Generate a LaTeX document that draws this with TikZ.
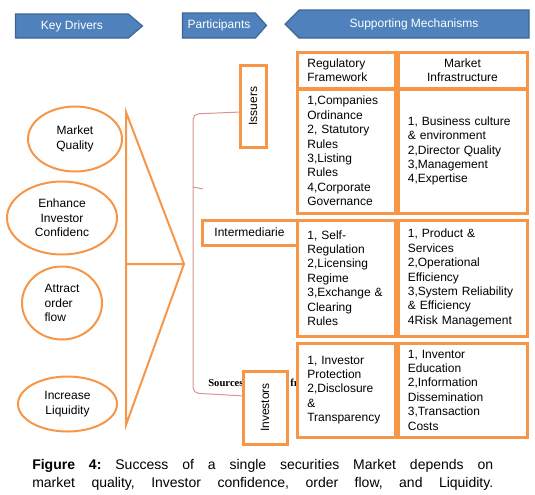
\documentclass[tikz,border=0pt]{standalone}
\usepackage{fontspec}
\setmainfont{Liberation Sans}
\newfontfamily\srcfont{Liberation Serif}
\usepackage{tikz}
\usetikzlibrary{shapes.geometric,shapes.symbols}
\definecolor{orng}{HTML}{F79646}
\definecolor{steel}{HTML}{4F81BD}
\definecolor{steeldark}{HTML}{3C6496}
\definecolor{brick}{HTML}{D99594}

\begin{document}
\begin{tikzpicture}[x=0.75pt,y=-0.75pt,every node/.style={font=\fontsize{9}{10.8}\selectfont},
  banner/.style={signal,draw=steeldark,fill=steel,text=white,line width=0.8pt,inner sep=0pt},
  driver/.style={ellipse,draw=orng,line width=1.5pt,inner sep=0pt,align=center},
  mechbox/.style={draw=orng,line width=2.25pt,fill=white,inner sep=0pt,align=left},
  partbox/.style={draw=orng,line width=2.25pt,fill=white,inner sep=0pt}]
\useasboundingbox (0,0) rectangle (535,494);
% header banners
\node[banner,signal to=east,signal pointer angle=81,minimum width=95.25pt,minimum height=18pt] (kd) at (72,26) {Key Drivers};
\node[banner,signal to=east,signal pointer angle=97,minimum width=63pt,minimum height=18.75pt] (part) at (219,25.5) {Participants};
\node[banner,signal to=west,signal pointer angle=90,minimum width=183pt,minimum height=21pt] (supp) at (414,24) {Supporting Mechanisms};
% key drivers
\node[driver,minimum width=70.5pt,minimum height=48.75pt] (mq) at (75,139) {Market\\Quality};
\node[driver,minimum width=82.5pt,minimum height=54.75pt] (conf) at (62,218) {Enhance\\Investor\\Confidenc};
\node[driver,align=left,minimum width=60pt,minimum height=54.75pt] (flow) at (62,303) {Attract\\order\\flow};
\node[driver,minimum width=74.25pt,minimum height=41.25pt] (liq) at (67.5,404) {Increase\\Liquidity};
\draw[orng,line width=1.5pt] (126,112) -- (184,264) -- (126,425) -- cycle (126,264) -- (184,264);
% bracket over the participants
\coordinate (brtop) at (0,112);
\coordinate (brbot) at (0,396);
\draw[brick,line width=0.75pt,rounded corners=4pt] (brtop -| 241,0) -- (193,114) -- (193,393) -- (brbot -| 244,0);
\draw[brick,line width=0.75pt] (193,187) -- (203,189);
\node[anchor=west,inner sep=0pt,font=\srcfont\bfseries\fontsize{8}{9.6}\selectfont] (src) at (208,383) {Sources};
\node[anchor=west,inner sep=0pt,font=\srcfont\bfseries\fontsize{8}{9.6}\selectfont] (fr) at (290,383) {fr};
% participants
\node[partbox,rotate=90,minimum width=61.5pt,minimum height=19.5pt] (iss) at (253,106) {Issuers};
\node[partbox,minimum width=71.25pt,minimum height=18.75pt] (inter) at (249.5,232.5) {Intermediarie};
\node[partbox,rotate=90,minimum width=54.75pt,minimum height=33pt] (inv) at (265,407.5) {Investors};
% supporting mechanisms
\node[mechbox,text width=58pt,minimum width=73.5pt,minimum height=27pt] (regH) at (346,70) {Regulatory\\Framework};
\node[mechbox,align=center,text width=82pt,minimum width=96.75pt,minimum height=27pt] (infH) at (462.5,70) {Market\\Infrastructure};
\node[mechbox,text width=58pt,minimum width=73.5pt,minimum height=93pt] (reg1) at (346,151) {1,Companies\\Ordinance\\2, Statutory\\Rules\\3,Listing\\Rules\\4,Corporate\\Governance};
\node[mechbox,text width=82pt,minimum width=96.75pt,minimum height=93pt] (inf1) at (462.5,151) {1, Business culture\\\& environment\\2,Director Quality\\3,Management\\4,Expertise};
\node[mechbox,text width=58pt,minimum width=73.5pt,minimum height=87pt] (reg2) at (346,278) {1, Self-\\Regulation\\2,Licensing\\Regime\\3,Exchange \&\\Clearing\\Rules};
\node[mechbox,text width=82pt,minimum width=96.75pt,minimum height=87pt] (inf2) at (462.5,278) {1, Product \&\\Services\\2,Operational\\Efficiency\\3,System Reliability\\\& Efficiency\\4Risk Management};
\node[mechbox,text width=58pt,minimum width=73.5pt,minimum height=70.5pt] (reg3) at (346,390) {1, Investor\\Protection\\2,Disclosure\\\&\\Transparency};
\node[mechbox,text width=82pt,minimum width=96.75pt,minimum height=70.5pt] (inf3) at (462.5,390) {1, Inventor\\Education\\2,Information\\Dissemination\\3,Transaction\\Costs};
% caption
\node[anchor=north west,inner sep=0pt,align=left,font=\fontsize{10.5}{13.5}\selectfont\frenchspacing] (cap) at (32,459) {\makebox[345.75pt][s]{\textbf{Figure 4:} Success of a single securities Market depends on}\\\makebox[345.75pt][s]{market quality, Investor confidence, order flow, and Liquidity.}};
\end{tikzpicture}
\end{document}
